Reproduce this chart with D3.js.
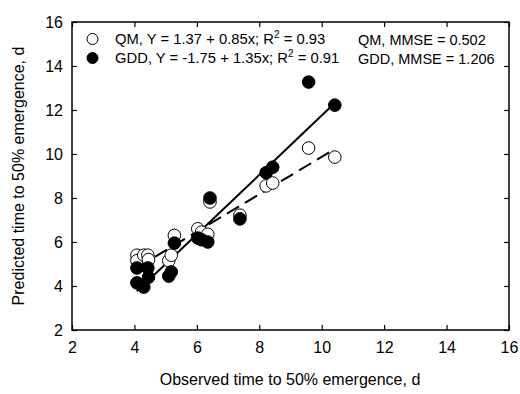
<!DOCTYPE html>
<html><head><meta charset="utf-8">
<script src="https://cdn.jsdelivr.net/npm/d3@7"></script>
<style>body{margin:0;background:#fff}svg{display:block;font-family:"Liberation Sans",Arial,sans-serif}</style>
</head><body><svg id="c" width="520" height="394"></svg>
<script>
const obs  = [4.08, 4.08, 4.30, 4.43, 4.45, 5.10, 5.18, 5.28, 6.03, 6.15, 6.35, 6.42, 7.38, 8.22, 8.43, 9.58, 10.42];
const qm   = [5.40, 5.15, 5.40, 5.40, 5.20, 5.15, 5.40, 6.30, 6.60, 6.45, 6.35, 7.82, 7.22, 8.55, 8.68, 10.27, 9.86];
const gdd  = [4.82, 4.14, 3.95, 4.82, 4.40, 4.45, 4.64, 5.95, 6.18, 6.10, 6.00, 8.00, 7.05, 9.15, 9.40, 13.27, 12.22];
const qmFit = {a: 1.37, b: 0.85};
const gddFit = {a: -1.75, b: 1.35};
const ticks = [2, 4, 6, 8, 10, 12, 14, 16];
const xTitle = "Observed time to 50% emergence, d";
const yTitle = "Predicted time to 50% emergence, d";

const svg = d3.select("#c");
const L = 72, R = 509, T = 22, B = 330;
const x = d3.scaleLinear().domain([2, 16]).range([L, R]);
const y = d3.scaleLinear().domain([2, 16]).range([B, T]);

// frame
svg.append("rect").attr("x", L).attr("y", T).attr("width", R - L).attr("height", B - T)
  .attr("fill", "none").attr("stroke", "#000").attr("stroke-width", 1.5);

const fs = 16;
svg.append("g").attr("transform", `translate(0,${B})`)
  .call(d3.axisBottom(x).tickValues(ticks).tickSizeInner(-5).tickSizeOuter(0).tickPadding(12))
  .call(g => { g.select(".domain").remove(); g.selectAll("text").attr("font-size", fs).attr("fill", "#000").attr("font-family", "Liberation Sans, Arial, sans-serif"); g.selectAll("line").attr("stroke-width", 1.2); });
svg.append("g").attr("transform", `translate(0,${T})`)
  .call(d3.axisTop(x).tickValues(ticks).tickSizeInner(-5).tickSizeOuter(0).tickFormat(""))
  .call(g => { g.select(".domain").remove(); g.selectAll("line").attr("stroke-width", 1.2); });
svg.append("g").attr("transform", `translate(${L},0)`)
  .call(d3.axisLeft(y).tickValues(ticks).tickSizeInner(-5).tickSizeOuter(0).tickPadding(9))
  .call(g => { g.select(".domain").remove(); g.selectAll("text").attr("font-size", fs).attr("fill", "#000").attr("font-family", "Liberation Sans, Arial, sans-serif"); g.selectAll("line").attr("stroke-width", 1.2); });
svg.append("g").attr("transform", `translate(${R},0)`)
  .call(d3.axisRight(y).tickValues(ticks).tickSizeInner(-5).tickSizeOuter(0).tickFormat(""))
  .call(g => { g.select(".domain").remove(); g.selectAll("line").attr("stroke-width", 1.2); });

svg.append("text").attr("x", (L + R) / 2 - 0.5).attr("y", 385).attr("text-anchor", "middle")
  .attr("font-size", 16).text(xTitle);
svg.append("text").attr("transform", `translate(24,${(T + B) / 2}) rotate(-90)`).attr("text-anchor", "middle")
  .attr("font-size", 16).text(yTitle);

// regression lines
const xmin = d3.min(obs), xmax = d3.max(obs);
const line = d3.line().x(d => x(d[0])).y(d => y(d[1]));
svg.append("path").attr("d", line([[xmin, qmFit.a + qmFit.b * xmin], [xmax, qmFit.a + qmFit.b * xmax]]))
  .attr("stroke", "#000").attr("stroke-width", 2).attr("stroke-dasharray", "14,7").attr("fill", "none");
svg.append("path").attr("d", line([[xmin, gddFit.a + gddFit.b * xmin], [xmax, gddFit.a + gddFit.b * xmax]]))
  .attr("stroke", "#000").attr("stroke-width", 2).attr("fill", "none");

// points
const r = 6.3;
svg.append("g").selectAll("circle").data(obs).join("circle")
  .attr("cx", (d) => x(d)).attr("cy", (d, i) => y(qm[i])).attr("r", r)
  .attr("fill", "#fff").attr("stroke", "#000").attr("stroke-width", 1);
svg.append("g").selectAll("circle").data(obs).join("circle")
  .attr("cx", (d) => x(d)).attr("cy", (d, i) => y(gdd[i])).attr("r", r)
  .attr("fill", "#000").attr("stroke", "#000").attr("stroke-width", 1);

// legend
const lfs = 14.8;
svg.append("circle").attr("cx", 92.5).attr("cy", 39).attr("r", 5.5).attr("fill", "#fff").attr("stroke", "#000");
svg.append("circle").attr("cx", 92.5).attr("cy", 58).attr("r", 5.5).attr("fill", "#000").attr("stroke", "#000");
function eq(yy, name, fit, r2) {
  const t = svg.append("text").attr("x", 115).attr("y", yy).attr("font-size", lfs);
  t.append("tspan").text(`${name}, Y = ${fit.a.toFixed(2)} + ${fit.b.toFixed(2)}x; R`);
  t.append("tspan").attr("dy", -6).attr("font-size", 10).text("2");
  t.append("tspan").attr("dy", 6).text(` = ${r2}`);
}
eq(43.5, "QM", qmFit, "0.93");
eq(63, "GDD", gddFit, "0.91");
svg.append("text").attr("x", 358).attr("y", 45).attr("font-size", 14.5).text("QM, MMSE = 0.502");
svg.append("text").attr("x", 358).attr("y", 64).attr("font-size", 14.5).text("GDD, MMSE = 1.206");
</script></body></html>
